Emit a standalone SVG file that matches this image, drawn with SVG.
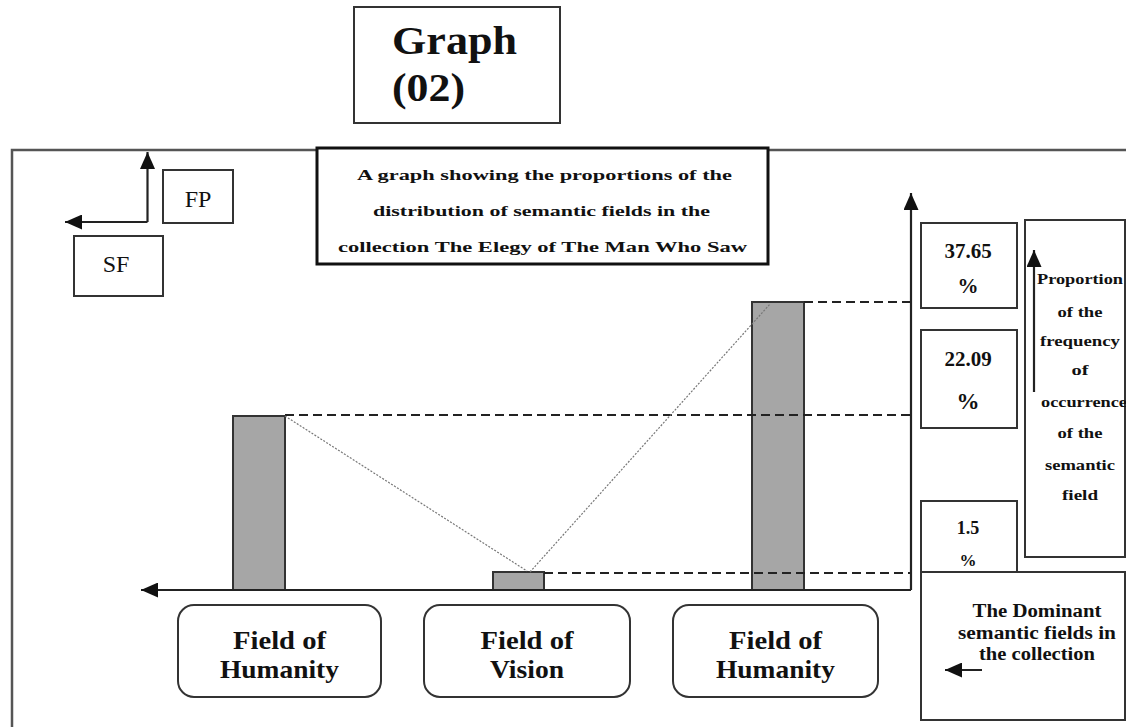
<svg xmlns="http://www.w3.org/2000/svg" width="1126" height="727" viewBox="0 0 1126 727">
<style>
text{font-family:"Liberation Serif","Times New Roman",serif;fill:#111}
.b{font-weight:bold}
.box{fill:#fff;stroke:#333;stroke-width:2}
.bar{fill:#a6a6a6;stroke:#333;stroke-width:2}
.dash{stroke:#222;stroke-width:2.2;stroke-dasharray:9 5;fill:none}
.dot{stroke:#777;stroke-width:1.2;stroke-dasharray:2 1.5;fill:none}
.ax{stroke:#222;stroke-width:2.2;fill:none}
.c{text-anchor:middle}
</style>
<defs>
<marker id="ah" viewBox="0 0 10 10" refX="10" refY="5" markerWidth="17" markerHeight="15" markerUnits="userSpaceOnUse" orient="auto" preserveAspectRatio="none">
<path d="M0,0 L10,5 L0,10 z" fill="#111"/>
</marker>
</defs>
<rect width="1126" height="727" fill="#fff"/>

<g id="frame">
<path d="M12,727 L12,150 L1126,150" fill="none" stroke="#555" stroke-width="2.5"/>
</g>

<g id="graph-title">
<rect x="354" y="7" width="206" height="116" class="box"/>
<text x="392" y="54" class="b" font-size="40" textLength="125" lengthAdjust="spacingAndGlyphs">Graph</text>
<text x="392" y="101" class="b" font-size="39" textLength="73" lengthAdjust="spacingAndGlyphs">(02)</text>
</g>

<g id="caption">
<rect x="317" y="148" width="451" height="116" fill="#fff" stroke="#111" stroke-width="3"/>
<text x="544.5" y="180" class="b c" font-size="15" textLength="375" lengthAdjust="spacingAndGlyphs">A graph showing the proportions of the</text>
<text x="541.5" y="216" class="b c" font-size="15" textLength="337" lengthAdjust="spacingAndGlyphs">distribution of semantic fields in the</text>
<text x="542.5" y="252" class="b c" font-size="15" textLength="409" lengthAdjust="spacingAndGlyphs">collection The Elegy of The Man Who Saw</text>
</g>

<g id="fp">
<rect x="163" y="170" width="70" height="53" class="box"/>
<text x="198" y="207" class="c" font-size="24">FP</text>
</g>
<g id="sf">
<rect x="74" y="236" width="89" height="60" class="box"/>
<text x="116" y="272" class="c" font-size="24">SF</text>
</g>

<g id="val-3765">
<rect x="921" y="223" width="96" height="85" class="box"/>
<text x="968" y="258" class="b c" font-size="21">37.65</text>
<text x="968" y="293" class="b c" font-size="21">%</text>
</g>
<g id="val-2209">
<rect x="921" y="330" width="96" height="98" class="box"/>
<text x="968" y="366" class="b c" font-size="21">22.09</text>
<text x="968" y="409" class="b c" font-size="23">%</text>
</g>
<g id="val-15">
<rect x="921" y="501" width="96" height="71" class="box"/>
<text x="968" y="534" class="b c" font-size="18">1.5</text>
<text x="968" y="566" class="b c" font-size="17">%</text>
</g>

<g id="proportion">
<rect x="1025" y="220" width="100" height="337" class="box"/>
<text x="1080" y="284" class="b c" font-size="14" textLength="86" lengthAdjust="spacingAndGlyphs">Proportion</text>
<text x="1080" y="317" class="b c" font-size="14" textLength="45" lengthAdjust="spacingAndGlyphs">of the</text>
<text x="1080" y="346" class="b c" font-size="14" textLength="80" lengthAdjust="spacingAndGlyphs">frequency</text>
<text x="1080" y="375" class="b c" font-size="14" textLength="17" lengthAdjust="spacingAndGlyphs">of</text>
<text x="1084" y="407" class="b c" font-size="14" textLength="86" lengthAdjust="spacingAndGlyphs">occurrence</text>
<text x="1080" y="438" class="b c" font-size="14" textLength="45" lengthAdjust="spacingAndGlyphs">of the</text>
<text x="1080" y="470" class="b c" font-size="14" textLength="70" lengthAdjust="spacingAndGlyphs">semantic</text>
<text x="1080" y="500" class="b c" font-size="14" textLength="36" lengthAdjust="spacingAndGlyphs">field</text>
</g>

<g id="dominant">
<rect x="921" y="572" width="204" height="148" class="box"/>
<text x="1037" y="617" class="b c" font-size="18" textLength="129" lengthAdjust="spacingAndGlyphs">The Dominant</text>
<text x="1037" y="639" class="b c" font-size="18" textLength="158" lengthAdjust="spacingAndGlyphs">semantic fields in</text>
<text x="1037" y="660" class="b c" font-size="18" textLength="116" lengthAdjust="spacingAndGlyphs">the collection</text>
</g>

<g id="bars">
<rect x="233" y="416" width="52" height="174" class="bar"/>
<rect x="493" y="572" width="51" height="18" class="bar"/>
<rect x="752" y="302" width="52" height="288" class="bar"/>
</g>

<g id="label-1">
<rect x="178" y="605" width="203" height="92" rx="16" class="box"/>
<text x="279.5" y="649" class="b c" font-size="25" textLength="93" lengthAdjust="spacingAndGlyphs">Field of</text>
<text x="279.5" y="678" class="b c" font-size="25" textLength="119" lengthAdjust="spacingAndGlyphs">Humanity</text>
</g>
<g id="label-2">
<rect x="424" y="605" width="206" height="92" rx="16" class="box"/>
<text x="527" y="649" class="b c" font-size="25" textLength="93" lengthAdjust="spacingAndGlyphs">Field of</text>
<text x="527" y="678" class="b c" font-size="25" textLength="74" lengthAdjust="spacingAndGlyphs">Vision</text>
</g>
<g id="label-3">
<rect x="673" y="605" width="205" height="92" rx="16" class="box"/>
<text x="775.5" y="649" class="b c" font-size="25" textLength="93" lengthAdjust="spacingAndGlyphs">Field of</text>
<text x="775.5" y="678" class="b c" font-size="25" textLength="119" lengthAdjust="spacingAndGlyphs">Humanity</text>
</g>

<g id="connectors">
<path d="M804,302 L911,302" class="dash"/>
<path d="M285,415 L911,415" class="dash"/>
<path d="M544,573 L911,573" class="dash"/>
<path d="M285,416 L527,571" class="dot"/>
<path d="M530,572 L770,304" class="dot"/>
<path d="M911,590 L911,193" class="ax" marker-end="url(#ah)"/>
<path d="M911,590 L141,590" class="ax" marker-end="url(#ah)"/>
<path d="M147.5,222 L147.5,152" class="ax" marker-end="url(#ah)"/>
<path d="M147.5,222 L65,222" class="ax" marker-end="url(#ah)"/>
<path d="M1034,392 L1034,250" class="ax" marker-end="url(#ah)"/>
<path d="M982,670 L945,670" class="ax" marker-end="url(#ah)"/>
</g>
</svg>
